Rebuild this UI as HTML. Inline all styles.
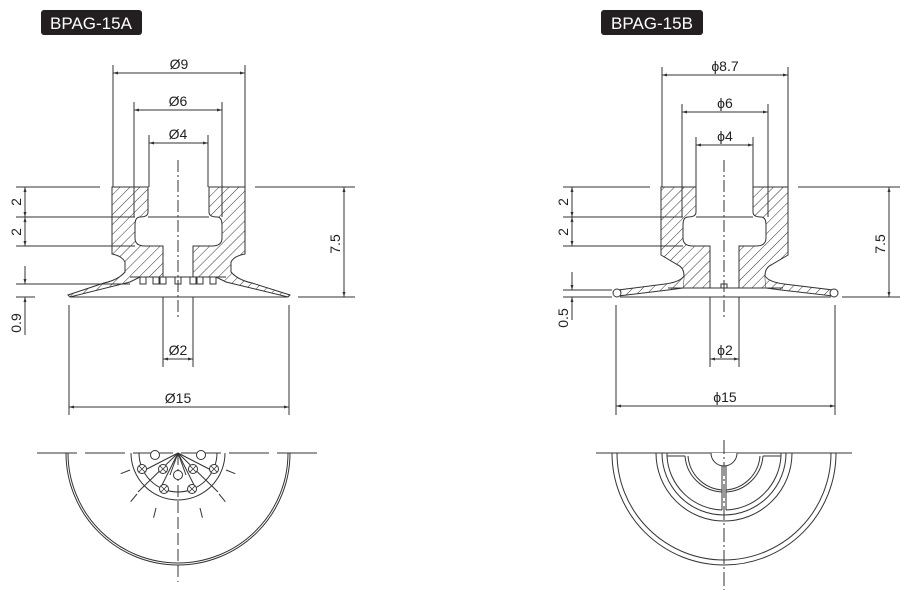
<!DOCTYPE html>
<html><head><meta charset="utf-8"><style>
html,body{margin:0;padding:0;background:#fff;}
svg{display:block;}
text{font-family:"Liberation Sans",sans-serif;fill:#222;}
</style></head><body>
<svg width="907" height="599" viewBox="0 0 907 599" xmlns="http://www.w3.org/2000/svg">
<defs>
<pattern id="h" patternUnits="userSpaceOnUse" width="7" height="7" patternTransform="rotate(45)">
<rect width="7" height="7" fill="#fff"/><line x1="0" y1="0" x2="0" y2="7" stroke="#333" stroke-width="1"/>
</pattern>
<marker id="a" viewBox="0 0 10 10" refX="10" refY="5" markerWidth="8" markerHeight="5" orient="auto-start-reverse"><path d="M0,2 L10,5 L0,8 z" fill="#333"/></marker>
</defs>
<g stroke="#333" stroke-width="1" fill="none">

<rect x="41" y="10" width="101" height="25" rx="3" fill="#231f20" stroke="none"/>
<rect x="601" y="10" width="102" height="25" rx="3" fill="#231f20" stroke="none"/>

<!-- LEFT SECTION -->
<path d="M112,187 H148 V212 Q148,217 140,217 Q135,217 135,225 V238 Q135,246 145,246 H163 V277 H130 L125,272 V262 Q122,256 112,254 Z" fill="url(#h)"/>
<path d="M245,187 H209 V212 Q209,217 217,217 Q222,217 222,225 V238 Q222,246 212,246 H193 V277 H226 L231,272 V262 Q234,256 245,254 Z" fill="url(#h)"/>
<path d="M148,217 H209"/>
<path d="M125,272 Q118,280 104,283 L68,295 L70,297 L130,282 L140,277" fill="url(#h)"/>
<path d="M231,272 Q238,280 252,283 L290,295 L288,297 L226,282 L216,277" fill="url(#h)"/>
<line x1="70" y1="297" x2="288" y2="297"/>
<g>
<rect x="140" y="277" width="6" height="7"/><rect x="153" y="277" width="6" height="7"/><rect x="160" y="277" width="6" height="7"/>
<rect x="175" y="277" width="6" height="7"/><rect x="190" y="277" width="6" height="7"/><rect x="197" y="277" width="6" height="7"/><rect x="210" y="277" width="6" height="7"/>
</g>
<line x1="130" y1="277" x2="226" y2="277"/>
<line x1="178" y1="160" x2="178" y2="320" stroke-dasharray="12,3,2,3"/>
<line x1="113" y1="65" x2="113" y2="187"/><line x1="245" y1="65" x2="245" y2="187"/>
<line x1="134" y1="102" x2="134" y2="217"/><line x1="222" y1="102" x2="222" y2="217"/>
<line x1="149" y1="135" x2="149" y2="187"/><line x1="208" y1="135" x2="208" y2="187"/>
<line x1="163" y1="297" x2="163" y2="367"/><line x1="193" y1="297" x2="193" y2="367"/>
<line x1="69" y1="305" x2="69" y2="415"/><line x1="289" y1="305" x2="289" y2="415"/>
<line x1="113" y1="73" x2="245" y2="73" marker-start="url(#a)" marker-end="url(#a)"/>
<line x1="134" y1="110" x2="222" y2="110" marker-start="url(#a)" marker-end="url(#a)"/>
<line x1="149" y1="143" x2="208" y2="143" marker-start="url(#a)" marker-end="url(#a)"/>
<line x1="163" y1="359" x2="193" y2="359" marker-start="url(#a)" marker-end="url(#a)"/>
<line x1="69" y1="407" x2="289" y2="407" marker-start="url(#a)" marker-end="url(#a)"/>
<line x1="16" y1="187" x2="100" y2="187"/><line x1="16" y1="217" x2="135" y2="217"/><line x1="16" y1="246" x2="135" y2="246"/>
<line x1="16" y1="284" x2="130" y2="284"/><line x1="16" y1="297" x2="35" y2="297"/>
<line x1="25" y1="187" x2="25" y2="217" marker-start="url(#a)" marker-end="url(#a)"/>
<line x1="25" y1="217" x2="25" y2="246" marker-start="url(#a)" marker-end="url(#a)"/>
<line x1="25" y1="266" x2="25" y2="284" marker-end="url(#a)"/>
<line x1="25" y1="297" x2="25" y2="335" marker-start="url(#a)"/>
<line x1="255" y1="187" x2="355" y2="187"/><line x1="298" y1="297" x2="355" y2="297"/>
<line x1="344" y1="187" x2="344" y2="297" marker-start="url(#a)" marker-end="url(#a)"/>

<!-- RIGHT SECTION -->
<path d="M661,187 H696 V212 Q696,217 688,217 Q683,217 683,225 V238 Q683,246 693,246 H710 V288 H683 L684,276 Q684,268 678,265 L661,255 Z" fill="url(#h)"/>
<path d="M788,187 H753 V212 Q753,217 761,217 Q766,217 766,225 V238 Q766,246 756,246 H739 V288 H766 L765,276 Q765,268 771,265 L788,255 Z" fill="url(#h)"/>
<path d="M696,217 H753"/>
<path d="M684,276 Q680,282 665,284 L618,290 L618,296 L668,290 L683,288" fill="url(#h)"/>
<path d="M765,276 Q769,282 784,284 L833,290 L833,296 L781,290 L766,288" fill="url(#h)"/>
<circle cx="617" cy="293" r="4" fill="#fff"/><circle cx="834" cy="293" r="4" fill="#fff"/>
<line x1="620" y1="297" x2="831" y2="297"/>
<line x1="668" y1="288" x2="783" y2="288"/>
<rect x="721" y="284" width="6" height="4"/>
<line x1="724" y1="160" x2="724" y2="320" stroke-dasharray="12,3,2,3"/>
<line x1="662" y1="67" x2="662" y2="187"/><line x1="788" y1="67" x2="788" y2="187"/>
<line x1="682" y1="104" x2="682" y2="217"/><line x1="768" y1="104" x2="768" y2="217"/>
<line x1="696" y1="137" x2="696" y2="187"/><line x1="753" y1="137" x2="753" y2="187"/>
<line x1="710" y1="297" x2="710" y2="367"/><line x1="739" y1="297" x2="739" y2="367"/>
<line x1="616" y1="305" x2="616" y2="415"/><line x1="835" y1="305" x2="835" y2="415"/>
<line x1="662" y1="75" x2="788" y2="75" marker-start="url(#a)" marker-end="url(#a)"/>
<line x1="682" y1="112" x2="768" y2="112" marker-start="url(#a)" marker-end="url(#a)"/>
<line x1="696" y1="145" x2="753" y2="145" marker-start="url(#a)" marker-end="url(#a)"/>
<line x1="710" y1="359" x2="739" y2="359" marker-start="url(#a)" marker-end="url(#a)"/>
<line x1="616" y1="406" x2="835" y2="406" marker-start="url(#a)" marker-end="url(#a)"/>
<line x1="563" y1="187" x2="650" y2="187"/><line x1="563" y1="217" x2="683" y2="217"/><line x1="563" y1="246" x2="683" y2="246"/>
<line x1="563" y1="290" x2="612" y2="290"/><line x1="563" y1="297" x2="612" y2="297"/>
<line x1="572" y1="187" x2="572" y2="217" marker-start="url(#a)" marker-end="url(#a)"/>
<line x1="572" y1="217" x2="572" y2="246" marker-start="url(#a)" marker-end="url(#a)"/>
<line x1="572" y1="272" x2="572" y2="290" marker-end="url(#a)"/>
<line x1="572" y1="297" x2="572" y2="320" marker-start="url(#a)"/>
<line x1="798" y1="187" x2="900" y2="187"/><line x1="842" y1="297" x2="900" y2="297"/>
<line x1="889" y1="187" x2="889" y2="297" marker-start="url(#a)" marker-end="url(#a)"/>

<!-- LEFT BOTTOM VIEW -->
<line x1="37" y1="453" x2="317" y2="453" stroke-dasharray="40,8"/>
<path d="M66,453 A112,112 0 0 0 290,453"/>
<path d="M68,453 A110,110 0 0 0 288,453"/>
<path d="M131,453 A47,47 0 0 0 225,453"/>
<path d="M139,453 A39,39 0 0 0 217,453"/>
<line x1="178" y1="453" x2="178" y2="582" stroke-dasharray="12,4"/>
<g>
<line x1="178" y1="453" x2="138" y2="492"/><line x1="178" y1="453" x2="160" y2="489"/>
<line x1="178" y1="453" x2="170" y2="475"/><line x1="178" y1="453" x2="186" y2="475"/>
<line x1="178" y1="453" x2="196" y2="489"/><line x1="178" y1="453" x2="218" y2="492"/>
<line x1="178" y1="453" x2="145" y2="470"/><line x1="178" y1="453" x2="211" y2="470"/>
</g>
<g stroke-dasharray="10,10">
<line x1="130" y1="470" x2="115" y2="476"/><line x1="226" y1="470" x2="241" y2="476"/>
<line x1="137" y1="494" x2="128" y2="505"/><line x1="219" y1="494" x2="228" y2="505"/>
<line x1="156" y1="508" x2="153" y2="520"/><line x1="200" y1="508" x2="203" y2="520"/>
</g>
<g fill="#fff">
<circle cx="155" cy="455" r="4.5"/><circle cx="201" cy="455" r="4.5"/>
<circle cx="142" cy="469" r="4.5"/><circle cx="163" cy="469" r="4.5"/><circle cx="178" cy="475" r="4.5"/>
<circle cx="193" cy="469" r="4.5"/><circle cx="214" cy="469" r="4.5"/>
<circle cx="164" cy="489" r="4.5"/><circle cx="192" cy="489" r="4.5"/>
</g>
<g stroke-width="0.8">
<path d="M139,466 l6,6 M145,466 l-6,6 M160,466 l6,6 M166,466 l-6,6 M190,466 l6,6 M196,466 l-6,6 M211,466 l6,6 M217,466 l-6,6 M161,486 l6,6 M167,486 l-6,6 M189,486 l6,6 M195,486 l-6,6"/>
</g>

<!-- RIGHT BOTTOM VIEW -->
<line x1="596" y1="453" x2="852" y2="453"/>
<path d="M612,453 A112,112 0 0 0 836,453"/>
<path d="M617,453 A107,107 0 0 0 831,453"/>
<path d="M656,453 A68,68 0 0 0 792,453"/>
<path d="M662,453 A62,62 0 0 0 786,453"/>
<path d="M667,456 H685 M667,456 A57,57 0 0 0 722,510 M726,510 A57,57 0 0 0 781,456 M763,456 H781"/>
<path d="M685,456 A39,39 0 0 0 722,492 M726,492 A39,39 0 0 0 763,456"/>
<path d="M688,456 A37,37 0 0 0 722,490 M726,490 A37,37 0 0 0 760,456 M667,456 V453 M781,456 V453"/>
<line x1="722" y1="466" x2="722" y2="510"/><line x1="726" y1="466" x2="726" y2="510"/>
<path d="M711,453 A13,13 0 0 0 737,453" fill="#fff"/>
<line x1="724" y1="440" x2="724" y2="590" stroke-dasharray="14,3,2,3"/>
</g>

<text x="91" y="29" font-size="17" text-anchor="middle" style="fill:#fff">BPAG-15A</text>
<text x="652" y="29" font-size="17" text-anchor="middle" style="fill:#fff">BPAG-15B</text>
<g font-size="14" text-anchor="middle">
<text x="179" y="69">Ø9</text>
<text x="178" y="106">Ø6</text>
<text x="178" y="139">Ø4</text>
<text x="178" y="355">Ø2</text>
<text x="178" y="403">Ø15</text>
<text x="725" y="71">ϕ8.7</text>
<text x="725" y="108">ϕ6</text>
<text x="725" y="141">ϕ4</text>
<text x="725" y="355">ϕ2</text>
<text x="725" y="402">ϕ15</text>
<text transform="translate(21,202) rotate(-90)">2</text>
<text transform="translate(21,232) rotate(-90)">2</text>
<text transform="translate(21,323) rotate(-90)">0.9</text>
<text transform="translate(340,244) rotate(-90)">7.5</text>
<text transform="translate(568,202) rotate(-90)">2</text>
<text transform="translate(568,232) rotate(-90)">2</text>
<text transform="translate(568,318) rotate(-90)">0.5</text>
<text transform="translate(885,244) rotate(-90)">7.5</text>
</g>
</svg>
</body></html>
